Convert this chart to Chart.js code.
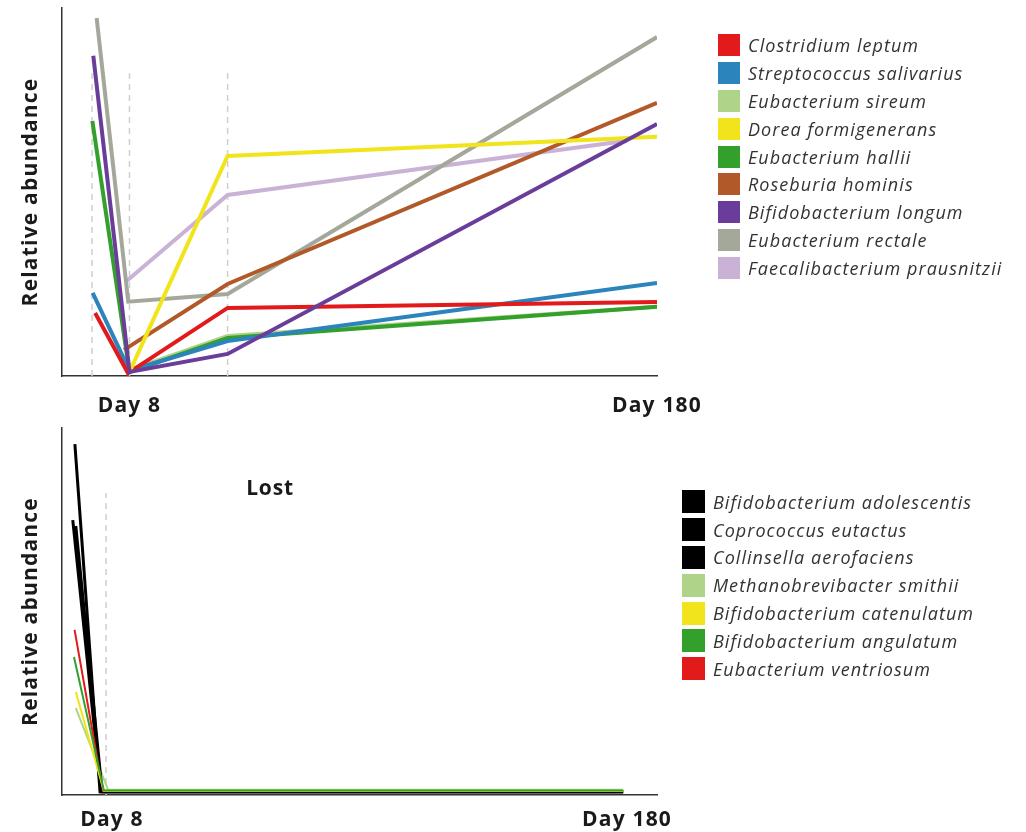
<!DOCTYPE html>
<html>
<head>
<meta charset="utf-8">
<script src="https://cdn.jsdelivr.net/npm/chart.js@4/dist/chart.umd.min.js"></script>
<style>
  html, body { margin: 0; padding: 0; background: #fff; }
  body { width: 1026px; height: 832px; position: relative; overflow: hidden; font-family: "Open Sans", sans-serif; }
  #topWrap { position: absolute; left: 0; top: 0; width: 760px; height: 425px; }
  #bottomWrap { position: absolute; left: 0; top: 420px; width: 700px; height: 412px; }
  .legend { position: absolute; color: #333; font-style: italic; font-size: 18px; letter-spacing: 1.05px; }
  .legend .row { display: flex; align-items: center; height: 27.8px; white-space: nowrap; }
  .legend .sw { flex: none; margin-right: 8px; }
  #topLegend { left: 718px; top: 31.5px; }
  #topLegend .sw { width: 22px; height: 22px; }
  #bottomLegend { left: 682px; top: 488px; }
  #bottomLegend .sw { width: 23px; height: 23px; }
  #lost { position: absolute; left: 270px; top: 487px; transform: translate(-50%, -50%); font-weight: 700; font-size: 21px; letter-spacing: 0.8px; color: #1a1a1a; }
</style>
</head>
<body>
<div id="topWrap"><canvas id="topChart" width="760" height="425"></canvas></div>
<div id="bottomWrap"><canvas id="bottomChart" width="700" height="412"></canvas></div>
<div id="lost">Lost</div>
<div id="topLegend" class="legend"></div>
<div id="bottomLegend" class="legend"></div>
<script>
// ---- Persisting species: [day, relative abundance] ----
const clostridiumLeptum = [[-3.2, 17.1], [7.5, 0.8], [40, 18.5], [180, 20.1]];
const streptococcusSalivarius = [[-4.0, 22.6], [8, 1.5], [40, 9.5], [180, 25.3]];
const eubacteriumSireum = [[8, 1.6], [40, 10.9], [180, 18.8]];
const doreaFormigenerans = [[8.4, 1.8], [40, 59.8], [180, 65.0]];
const eubacteriumHallii = [[-4.1, 69.3], [8, 1.1], [40, 10.3], [180, 18.8]];
const roseburiaHominis = [[6.2, 7.1], [40, 25.0], [180, 74.2]];
const bifidobacteriumLongum = [[-3.8, 87.0], [8, 1.1], [40, 6.0], [180, 68.5]];
const eubacteriumRectale = [[-2.7, 97.3], [7.6, 20.2], [40, 22.3], [180, 92.1]];
const faecalibacteriumPrausnitzii = [[6.5, 25.4], [40, 49.2], [170.2, 63.9]];

// ---- Lost species ----
const bifidobacteriumAdolescentis = [[-4.4, 95.6], [4.0, 0.9], [178.7, 0.9]];
const coprococcusEutactus = [[-5.1, 74.9], [4.3, 0.9], [178.7, 0.9]];
const collinsellaAerofaciens = [[-4.1, 73.3], [4.7, 0.9], [178.7, 0.9]];
const methanobrevibacterSmithii = [[-4.1, 23.7], [6.7, 1.4], [178.7, 1.4]];
const bifidobacteriumCatenulatum = [[-4.1, 28.1], [5.3, 1.1], [178.7, 1.1]];
const bifidobacteriumAngulatum = [[-4.7, 37.6], [5.3, 1.2], [178.7, 1.2]];
const eubacteriumVentriosum = [[-4.5, 45.0], [5.0, 1.1], [178.7, 1.1]];

// sampling days marked with dashed guides
const topGuideDays = [-4.2, 8, 40];
const bottomGuideDays = [6.0];
const guideTop = 82.3;

// labelled days on the x axes
const dayTicks = [8, 180];

const topNames = ["Clostridium leptum", "Streptococcus salivarius", "Eubacterium sireum",
  "Dorea formigenerans", "Eubacterium hallii", "Roseburia hominis",
  "Bifidobacterium longum", "Eubacterium rectale", "Faecalibacterium prausnitzii"];
const topSeries = [clostridiumLeptum, streptococcusSalivarius, eubacteriumSireum,
  doreaFormigenerans, eubacteriumHallii, roseburiaHominis,
  bifidobacteriumLongum, eubacteriumRectale, faecalibacteriumPrausnitzii];
const topColors = ["#e31a1c", "#2c84bc", "#b0d38a", "#f2e41c", "#33a02c",
  "#b15928", "#6a3d9a", "#a3a89b", "#cab2d6"];
const topOrder = [3, 4, 6, 2, 5, 2, 1, 2, 3];

const bottomNames = ["Bifidobacterium adolescentis", "Coprococcus eutactus", "Collinsella aerofaciens",
  "Methanobrevibacter smithii", "Bifidobacterium catenulatum", "Bifidobacterium angulatum",
  "Eubacterium ventriosum"];
const bottomSeries = [bifidobacteriumAdolescentis, coprococcusEutactus, collinsellaAerofaciens,
  methanobrevibacterSmithii, bifidobacteriumCatenulatum, bifidobacteriumAngulatum,
  eubacteriumVentriosum];
const bottomColors = ["#000000", "#000000", "#000000", "#b0d38a", "#f2e41c", "#33a02c", "#e31a1c"];
const bottomWidths = [3, 3, 3, 2, 2, 2, 2];
const bottomOrder = [2, 2, 2, 3, 1, 0, 1];

const toPts = arr => arr.map(p => ({ x: p[0], y: p[1] }));

// wider tracking for the canvas-drawn axis text
const spacedText = {
  id: "spacedText",
  beforeDraw(chart) { chart.ctx.letterSpacing = "1.2px"; }
};

function guideSets(days) {
  return days.map(d => ({
    data: [{ x: d, y: 0 }, { x: d, y: guideTop }],
    borderColor: "#cfcfcf", borderWidth: 1.5, borderDash: [6, 5],
    pointRadius: 0, order: 100
  }));
}

function makeOptions(xmin, xmax, padRight, xAxisHeight, tickPad) {
  return {
    responsive: false,
    animation: false,
    layout: { padding: { top: 8, right: padRight, left: 0, bottom: 0 } },
    plugins: { legend: { display: false }, tooltip: { enabled: false } },
    elements: { line: { tension: 0, borderCapStyle: "butt", borderJoinStyle: "miter" }, point: { radius: 0 } },
    scales: {
      x: {
        type: "linear", min: xmin, max: xmax,
        grid: { display: false, drawTicks: false },
        border: { display: true, color: "#333", width: 1.5 },
        afterBuildTicks: s => { s.ticks = dayTicks.map(v => ({ value: v })); },
        afterFit: s => { s.height = xAxisHeight; },
        ticks: {
          autoSkip: false, maxRotation: 0, padding: tickPad, color: "#1a1a1a",
          font: { family: "Open Sans", weight: "700", size: 21 },
          callback: v => "Day " + v
        }
      },
      y: {
        min: 0, max: 100,
        grid: { display: false, drawTicks: false },
        border: { display: true, color: "#333", width: 1.5 },
        ticks: { display: false },
        afterFit: s => { s.width = 62; },
        title: {
          display: true, text: "Relative abundance", color: "#1a1a1a",
          font: { family: "Open Sans", weight: "700", size: 21 },
          padding: { top: 18, bottom: 0 }
        }
      }
    }
  };
}

new Chart(document.getElementById("topChart"), {
  type: "line",
  data: {
    datasets: topSeries.map((s, i) => ({
      label: topNames[i], data: toPts(s), borderColor: topColors[i],
      borderWidth: 4, pointRadius: 0, order: topOrder[i]
    })).concat(guideSets(topGuideDays))
  },
  options: makeOptions(-14, 180, 103, 49, 17),
  plugins: [spacedText]
});

new Chart(document.getElementById("bottomChart"), {
  type: "line",
  data: {
    datasets: bottomSeries.map((s, i) => ({
      label: bottomNames[i], data: toPts(s), borderColor: bottomColors[i],
      borderWidth: bottomWidths[i], pointRadius: 0, order: bottomOrder[i]
    })).concat(guideSets(bottomGuideDays))
  },
  options: makeOptions(-8.7, 190.0, 43, 37, 12),
  plugins: [spacedText]
});

function buildLegend(el, names, colors) {
  names.forEach((n, i) => {
    const row = document.createElement("div");
    row.className = "row";
    const sw = document.createElement("span");
    sw.className = "sw";
    sw.style.background = colors[i];
    const t = document.createElement("span");
    t.textContent = n;
    row.appendChild(sw);
    row.appendChild(t);
    el.appendChild(row);
  });
}
buildLegend(document.getElementById("topLegend"), topNames, topColors);
buildLegend(document.getElementById("bottomLegend"), bottomNames, bottomColors);
</script>
</body>
</html>
